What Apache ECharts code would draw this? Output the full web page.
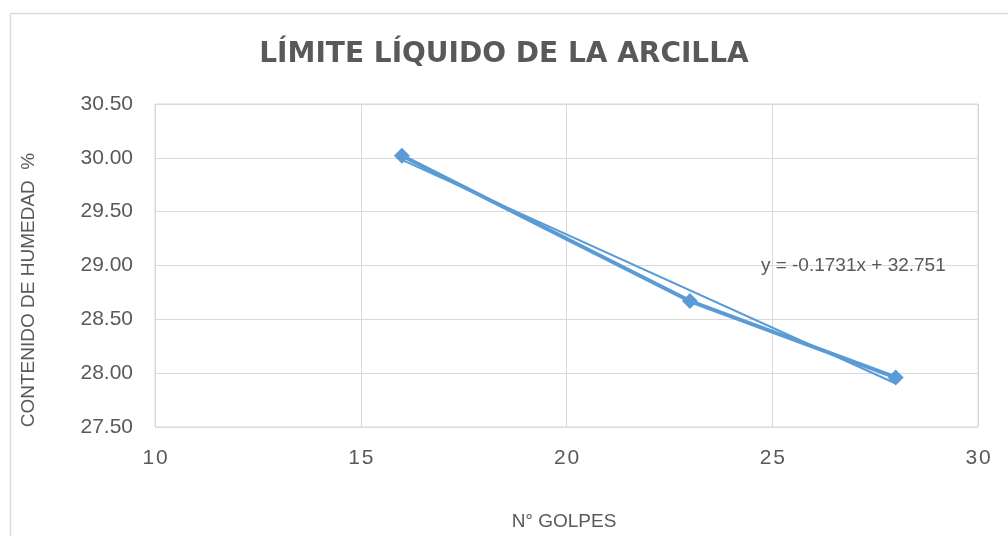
<!DOCTYPE html>
<html>
<head>
<meta charset="utf-8">
<script src="https://cdn.jsdelivr.net/npm/echarts@6/dist/echarts.min.js"></script>
<style>
    html, body { margin: 0; padding: 0; background: #fff; }
    #main { width: 1008px; height: 536px; }
</style>
</head>
<body>
<div id="main"></div>
<script>
// datos del ensayo
var golpes = [16, 23, 28];
var humedad = [30.02, 28.67, 27.96];
// linea de tendencia (Excel): y = -0.1731x + 32.751
var pendiente = -0.1731;
var intercepto = 32.751;
var ecuacionPos = [26.97, 29.0];
var xTicks = [10, 15, 20, 25, 30];
var yTicks = [27.5, 28.0, 28.5, 29.0, 29.5, 30.0, 30.5];

var colorSerie = '#5b9bd5';
var colorTexto = '#595959';
var colorGrilla = '#d9d9d9';

var puntos = golpes.map(function (g, i) { return [g, humedad[i]]; });
var xMin = Math.min.apply(null, golpes), xMax = Math.max.apply(null, golpes);
var tendencia = [xMin, xMax].map(function (x) { return [x, pendiente * x + intercepto]; });

var myChart = echarts.init(document.getElementById('main'));
var option = {
    animation: false,
    backgroundColor: '#fff',
    title: {
        text: 'LÍMITE LÍQUIDO DE LA ARCILLA',
        left: 'center',
        top: 36,
        textStyle: {
            fontFamily: 'DejaVu Sans',
            fontWeight: 'bold',
            fontSize: 28,
            color: colorTexto
        }
    },
    grid: {
        left: 155,
        right: 30,
        top: 104,
        bottom: 109,
        show: true,
        borderColor: colorGrilla,
        borderWidth: 1
    },
    xAxis: {
        type: 'value',
        min: xTicks[0],
        max: xTicks[xTicks.length - 1],
        interval: 5,
        axisLine: { show: false },
        axisTick: { show: false },
        splitLine: { lineStyle: { color: colorGrilla, width: 1 } },
        axisLabel: {
            margin: 21,
            color: colorTexto,
            fontFamily: 'Liberation Sans',
            fontSize: 21,
            formatter: function (v) { return String(v).split('').join('\u200A'); }
        }
    },
    yAxis: {
        type: 'value',
        min: yTicks[0],
        max: yTicks[yTicks.length - 1],
        interval: 0.5,
        axisLine: { show: false },
        axisTick: { show: false },
        splitLine: { lineStyle: { color: colorGrilla, width: 1 } },
        axisLabel: {
            margin: 22,
            color: colorTexto,
            fontFamily: 'Liberation Sans',
            fontSize: 21,
            formatter: function (v) { return v.toFixed(2); }
        }
    },
    graphic: [
        {
            type: 'rect',
            left: 8,
            top: 11,
            shape: { width: 1100, height: 600 },
            style: { fill: 'none', stroke: colorGrilla, lineWidth: 1.5 },
            silent: true,
            z: -10
        },
        {
            type: 'text',
            x: 29,
            y: 290,
            rotation: Math.PI / 2,
            style: {
                text: 'CONTENIDO DE HUMEDAD  %',
                fill: colorTexto,
                fontFamily: 'Liberation Sans',
                fontSize: 19,
                align: 'center',
                verticalAlign: 'middle'
            }
        },
        {
            type: 'text',
            x: 564,
            y: 522,
            style: {
                text: 'N° GOLPES',
                fill: colorTexto,
                fontFamily: 'Liberation Sans',
                fontSize: 19,
                align: 'center',
                verticalAlign: 'middle'
            }
        }
    ],
    series: [
        {
            name: 'Tendencia',
            type: 'line',
            data: tendencia,
            symbol: 'none',
            lineStyle: { color: colorSerie, width: 2 },
            z: 3,
            markPoint: {
                symbol: 'circle',
                symbolSize: 0,
                data: [{ coord: ecuacionPos }],
                label: {
                    show: true,
                    position: 'inside',
                    formatter: 'y = ' + pendiente + 'x + ' + intercepto,
                    color: colorTexto,
                    fontFamily: 'Liberation Sans',
                    fontSize: 19
                }
            }
        },
        {
            name: 'Humedad',
            type: 'line',
            data: puntos,
            symbol: 'diamond',
            symbolSize: 16,
            itemStyle: { color: colorSerie },
            lineStyle: { color: colorSerie, width: 4 },
            z: 4
        }
    ]
};
myChart.setOption(option);
</script>
</body>
</html>
